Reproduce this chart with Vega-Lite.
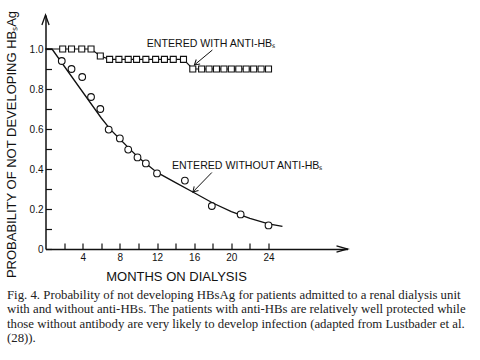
{
  "$schema": "https://vega.github.io/schema/vega-lite/v6.json",
  "width": 302,
  "height": 234,
  "autosize": "none",
  "padding": {"left": 45.5, "top": 15, "right": 132.5, "bottom": 111},
  "background": "white",
  "view": {"stroke": null},
  "config": {"font": "Liberation Sans"},
  "title": {
    "text": [
      "Fig. 4. Probability of not developing HBsAg for patients admitted to a renal dialysis unit",
      "with and without anti-HBs. The patients with anti-HBs are relatively well protected while",
      "those without antibody are very likely to develop infection (adapted from Lustbader et al.",
      "(28))."
    ],
    "orient": "bottom",
    "anchor": "start",
    "frame": "group",
    "dx": -38.5,
    "offset": 5,
    "font": "Liberation Serif",
    "fontSize": 12.8,
    "fontWeight": "normal",
    "color": "#222",
    "lineHeight": 14.5,
    "baseline": "top"
  },
  "datasets": {
    "curve": [
      {"month": 0, "p": 1.0}, {"month": 0.7, "p": 1.0}, {"month": 2, "p": 0.915},
      {"month": 4, "p": 0.785}, {"month": 6, "p": 0.655}, {"month": 7, "p": 0.597},
      {"month": 8, "p": 0.55}, {"month": 9, "p": 0.503}, {"month": 10, "p": 0.458},
      {"month": 11, "p": 0.42}, {"month": 12, "p": 0.383}, {"month": 14, "p": 0.332},
      {"month": 16, "p": 0.281}, {"month": 18, "p": 0.23}, {"month": 20, "p": 0.187},
      {"month": 22, "p": 0.153}, {"month": 24, "p": 0.126}, {"month": 25.5, "p": 0.113}
    ],
    "squares": [
      {"month": 0, "p": 1.0, "marker": false},
      {"month": 1.85, "p": 1.0, "marker": true},
      {"month": 2.8, "p": 1.0, "marker": true},
      {"month": 3.9, "p": 1.0, "marker": true},
      {"month": 4.9, "p": 1.0, "marker": true},
      {"month": 5.9, "p": 0.965, "marker": true},
      {"month": 6.9, "p": 0.948, "marker": true},
      {"month": 7.9, "p": 0.948, "marker": true},
      {"month": 8.9, "p": 0.948, "marker": true},
      {"month": 9.8, "p": 0.948, "marker": true},
      {"month": 10.8, "p": 0.948, "marker": true},
      {"month": 11.85, "p": 0.948, "marker": true},
      {"month": 12.8, "p": 0.948, "marker": true},
      {"month": 13.75, "p": 0.948, "marker": true},
      {"month": 14.85, "p": 0.948, "marker": true},
      {"month": 15.85, "p": 0.9, "marker": true},
      {"month": 16.8, "p": 0.9, "marker": true},
      {"month": 17.6, "p": 0.9, "marker": true},
      {"month": 18.4, "p": 0.9, "marker": true},
      {"month": 19.2, "p": 0.9, "marker": true},
      {"month": 20.0, "p": 0.9, "marker": true},
      {"month": 20.8, "p": 0.9, "marker": true},
      {"month": 21.6, "p": 0.9, "marker": true},
      {"month": 22.4, "p": 0.9, "marker": true},
      {"month": 23.2, "p": 0.9, "marker": true},
      {"month": 24.0, "p": 0.9, "marker": true}
    ],
    "circles": [
      {"month": 1.75, "p": 0.94}, {"month": 2.8, "p": 0.9}, {"month": 3.95, "p": 0.86},
      {"month": 4.9, "p": 0.76}, {"month": 5.9, "p": 0.7}, {"month": 6.8, "p": 0.597},
      {"month": 8.0, "p": 0.553}, {"month": 8.9, "p": 0.497}, {"month": 9.9, "p": 0.458},
      {"month": 10.8, "p": 0.428}, {"month": 12.0, "p": 0.378}, {"month": 15.0, "p": 0.342},
      {"month": 17.9, "p": 0.215}, {"month": 21.0, "p": 0.173}, {"month": 24.0, "p": 0.118}
    ],
    "labels": [
      {"month": 10.9, "p": 1.011, "text": "ENTERED WITH ANTI-HBₛ"},
      {"month": 13.6, "p": 0.3985, "text": "ENTERED WITHOUT ANTI-HBₛ"}
    ],
    "arrows": [
      {"month": 17.96, "p": 0.995, "month2": 16.02, "p2": 0.92},
      {"month": 17.9, "p": 0.3825, "month2": 15.86, "p2": 0.285}
    ],
    "heads": [
      {"id": 1, "month": 16.02, "p": 0.92},
      {"id": 2, "month": 15.86, "p": 0.285}
    ],
    "axisEnds": [
      {"id": "x", "month": 32.5, "p": 0},
      {"id": "y", "month": 0, "p": 1.17}
    ]
  },
  "encoding": {
    "x": {
      "field": "month",
      "type": "quantitative",
      "scale": {"domain": [0, 32.5], "nice": false, "zero": false},
      "axis": {
        "title": "MONTHS ON DIALYSIS",
        "values": [2, 4, 6, 8, 10, 12, 14, 16, 18, 20, 22, 24],
        "labelExpr": "datum.value % 4 == 0 ? datum.label : ''",
        "grid": false,
        "tickSize": -6,
        "labelPadding": 9.5,
        "tickColor": "#111",
        "tickWidth": 1.2,
        "domainColor": "#111",
        "domainWidth": 1.5,
        "labelFont": "Liberation Sans",
        "labelFontSize": 10,
        "labelColor": "#111",
        "labelFlush": false,
        "labelOverlap": false,
        "titleFont": "Liberation Sans",
        "titleFontSize": 13,
        "titleFontWeight": "normal",
        "titleColor": "#111",
        "titleX": 130.5,
        "titleY": 31.7,
        "titleBaseline": "alphabetic",
        "titleAlign": "center"
      }
    },
    "y": {
      "field": "p",
      "type": "quantitative",
      "scale": {"domain": [0, 1.17], "nice": false, "zero": false},
      "axis": {
        "title": "PROBABILITY OF NOT DEVELOPING HBₛAg",
        "values": [0, 0.1, 0.2, 0.3, 0.4, 0.5, 0.6, 0.7, 0.8, 0.9, 1.0],
        "labelExpr": "datum.value == 0 ? '0' : (round(datum.value * 10) % 2 == 0 ? format(datum.value, '.1f') : '')",
        "grid": false,
        "tickSize": -6,
        "labelPadding": 8.5,
        "tickColor": "#111",
        "tickWidth": 1.2,
        "domainColor": "#111",
        "domainWidth": 1.5,
        "labelFont": "Liberation Sans",
        "labelFontSize": 10,
        "labelColor": "#111",
        "labelFlush": false,
        "labelOverlap": false,
        "titleFont": "Liberation Sans",
        "titleFontSize": 13,
        "titleFontWeight": "normal",
        "titleColor": "#111",
        "titleAngle": -90,
        "titleX": -30,
        "titleY": 129,
        "titleBaseline": "alphabetic",
        "titleAlign": "center"
      }
    }
  },
  "layer": [
    {"data": {"name": "curve"}, "mark": {"type": "line", "color": "#111", "strokeWidth": 1.3}},
    {"data": {"name": "squares"}, "mark": {"type": "line", "color": "#111", "strokeWidth": 1.2}},
    {
      "data": {"name": "squares"},
      "transform": [{"filter": "datum.marker"}],
      "mark": {"type": "point", "shape": "square", "size": 36, "filled": true, "fill": "white", "stroke": "#111", "strokeWidth": 1.1, "opacity": 1}
    },
    {
      "data": {"name": "circles"},
      "mark": {"type": "point", "shape": "circle", "size": 45, "filled": true, "fill": "white", "stroke": "#111", "strokeWidth": 1.1, "opacity": 1}
    },
    {
      "data": {"name": "labels"},
      "mark": {"type": "text", "align": "left", "baseline": "alphabetic", "font": "Liberation Sans", "fontSize": 10.6, "color": "#111"},
      "encoding": {"text": {"field": "text"}}
    },
    {
      "data": {"name": "arrows"},
      "mark": {"type": "rule", "color": "#111", "strokeWidth": 1},
      "encoding": {"x2": {"field": "month2"}, "y2": {"field": "p2"}}
    },
    {
      "data": {"name": "heads"},
      "transform": [{"filter": "datum.id == 1"}],
      "mark": {"type": "point", "shape": "M-1,-0.6L0,0L-1,0.6", "size": 100, "angle": 140, "filled": false, "stroke": "#111", "strokeWidth": 1, "opacity": 1}
    },
    {
      "data": {"name": "heads"},
      "transform": [{"filter": "datum.id == 2"}],
      "mark": {"type": "point", "shape": "M-1,-0.6L0,0L-1,0.6", "size": 100, "angle": 134, "filled": false, "stroke": "#111", "strokeWidth": 1, "opacity": 1}
    },
    {
      "data": {"name": "axisEnds"},
      "transform": [{"filter": "datum.id == 'x'"}],
      "mark": {"type": "point", "shape": "M-1,-0.28L0,0L-1,0.28", "size": 484, "angle": 0, "filled": false, "stroke": "#111", "strokeWidth": 1.3, "opacity": 1}
    },
    {
      "data": {"name": "axisEnds"},
      "transform": [{"filter": "datum.id == 'y'"}],
      "mark": {"type": "point", "shape": "M-1,-0.36L0,0L-1,0.36", "size": 400, "angle": -90, "filled": false, "stroke": "#111", "strokeWidth": 1.3, "opacity": 1}
    }
  ]
}
